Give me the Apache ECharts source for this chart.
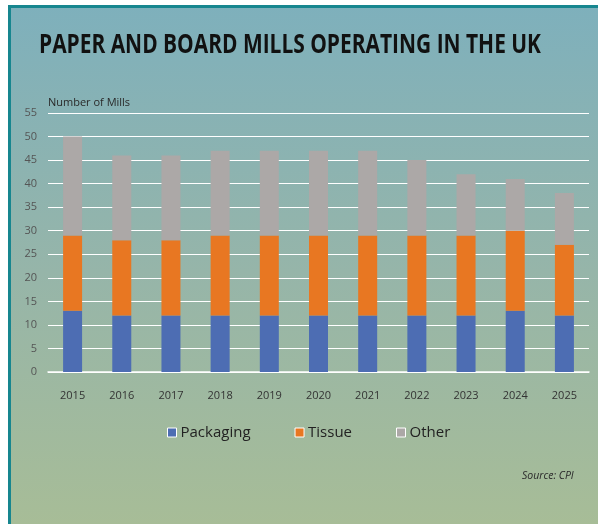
<!DOCTYPE html>
<html>
<head>
<meta charset="utf-8">
<script src="https://cdn.jsdelivr.net/npm/echarts@6/dist/echarts.min.js"></script>
<style>
  html, body { margin: 0; padding: 0; background: #ffffff; }
  #chart { width: 598px; height: 524px; }
</style>
</head>
<body>
<div id="chart"></div>
<script>
// Paper and board mills operating in the UK, by mill type
const years = ['2015', '2016', '2017', '2018', '2019', '2020', '2021', '2022', '2023', '2024', '2025'];
const packaging = [13, 12, 12, 12, 12, 12, 12, 12, 12, 13, 12];
const tissue    = [16, 16, 16, 17, 17, 17, 17, 17, 17, 17, 15];
const other     = [21, 18, 18, 18, 18, 18, 18, 16, 13, 11, 11];
const seriesNames = ['Packaging', 'Tissue', 'Other'];

const colors = ['#4d6db3', '#e87722', '#aca8a7'];
const valueSets = [packaging, tissue, other];

// Heading is set in a condensed bold face: squeeze Open Sans Bold to the target width
const titleText = 'PAPER AND BOARD MILLS OPERATING IN THE UK';
const titleFont = 'bold 26px "Open Sans"';
const titleWidth = 502;
const ctx = document.createElement('canvas').getContext('2d');
ctx.font = titleFont;
const titleScale = titleWidth / ctx.measureText(titleText).width;

const chart = echarts.init(document.getElementById('chart'), null, { renderer: 'canvas' });

const option = {
  animation: false,
  backgroundColor: '#ffffff',
  graphic: [
    {
      type: 'rect',
      z: -10,
      silent: true,
      shape: { x: 9.5, y: 6.5, width: 600, height: 530 },
      style: {
        fill: new echarts.graphic.LinearGradient(0, 0, 0, 1, [
          { offset: 0, color: '#7eb0bc' },
          { offset: 0.5, color: '#96b5a9' },
          { offset: 1, color: '#a8bd96' }
        ]),
        stroke: '#17868f',
        lineWidth: 3
      }
    },
    {
      type: 'text',
      x: 39,
      y: 33,
      scaleX: titleScale,
      style: {
        text: titleText,
        font: titleFont,
        fill: '#111111'
      }
    },
    {
      type: 'text',
      left: 48,
      top: 97,
      style: {
        text: 'Number of Mills',
        font: '11px "Open Sans"',
        fill: '#2a2a2a'
      }
    },
    {
      type: 'text',
      left: 522,
      top: 471,
      style: {
        text: 'Source: CPI',
        font: 'italic 10.5px "Open Sans"',
        fill: '#2a2a2a'
      }
    }
  ],
  legend: {
    data: seriesNames,
    left: 167,
    top: 425,
    padding: 0,
    itemWidth: 9,
    itemHeight: 9,
    itemGap: 44,
    icon: 'rect',
    itemStyle: { borderColor: '#ffffff', borderWidth: 1 },
    textStyle: { fontFamily: '"Open Sans"', fontSize: 15, color: '#222222', padding: [0, 0, 0, -1] }
  },
  grid: { left: 48, right: 9, top: 113, bottom: 152, containLabel: false },
  xAxis: {
    type: 'category',
    data: years,
    axisLine: { show: true, lineStyle: { color: '#ffffff', width: 1.5 } },
    axisTick: { show: false },
    axisLabel: { fontFamily: '"Open Sans"', fontSize: 11, color: '#333333', margin: 18 }
  },
  yAxis: {
    type: 'value',
    min: 0,
    max: 55,
    interval: 5,
    axisLine: { show: false },
    axisTick: { show: false },
    axisLabel: { fontFamily: '"Open Sans"', fontSize: 11, color: '#555555', margin: 11 },
    splitLine: { lineStyle: { color: '#ffffff', width: 1.2 } }
  },
  series: seriesNames.map((name, i) => ({
    name: name,
    type: 'bar',
    stack: 'mills',
    barWidth: 19,
    data: valueSets[i],
    itemStyle: { color: colors[i] }
  }))
};

chart.setOption(option);
</script>
</body>
</html>
